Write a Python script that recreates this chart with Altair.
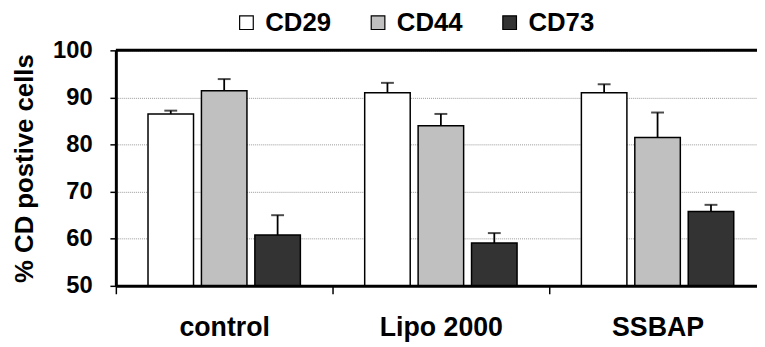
import altair as alt
import pandas as pd

groups = ["control", "Lipo 2000", "SSBAP"]
series = ["CD29", "CD44", "CD73"]
colors = ["#ffffff", "#c0c0c0", "#333333"]
values = {
    "CD29": [86.5, 91.0, 91.0],
    "CD44": [91.4, 84.0, 81.5],
    "CD73": [60.8, 59.1, 65.8],
}
errors = {
    "CD29": [0.7, 2.1, 1.8],
    "CD44": [2.5, 2.5, 5.3],
    "CD73": [4.2, 2.1, 1.4],
}

rows = []
for s in series:
    for i, g in enumerate(groups):
        v = values[s][i]
        e = errors[s][i]
        rows.append({"group": g, "series": s, "value": v, "top": v + e})
df = pd.DataFrame(rows)

FONT = "Liberation Sans"
W, H = 648, 238

x_enc = alt.X(
    "group:N",
    sort=groups,
    scale=alt.Scale(domain=groups, range=[0, 657], paddingInner=0, paddingOuter=0),
    axis=alt.Axis(
        title=None, labelAngle=0, labelFont=FONT, labelFontSize=27, labelFontWeight="bold",
        labelColor="black", tickBand="extent", tickSize=8, tickWidth=1.5, tickColor="black",
        domainColor="black", domainWidth=3, labelPadding=21, zindex=1,
    ),
)
xo_enc = alt.XOffset(
    "series:N", sort=series,
    scale=alt.Scale(domain=series, paddingInner=0.148, paddingOuter=0.602),
)
y_scale = alt.Scale(domain=[50, 100], zero=False, nice=False)

base = alt.Chart(df)

bars = base.mark_bar(stroke="black", strokeWidth=1.5).encode(
    x=x_enc,
    xOffset=xo_enc,
    y=alt.Y(
        "value:Q", scale=y_scale,
        axis=alt.Axis(
            title="% CD postive cells", titleFont=FONT, titleFontSize=26, titleFontWeight="bold",
            titleColor="black", titlePadding=15,
            values=[50, 60, 70, 80, 90, 100], labelFont=FONT, labelFontSize=24,
            labelFontWeight="bold", labelColor="black", labelPadding=18, tickSize=6,
            tickWidth=1.5, tickColor="black", domainColor="black", domainWidth=3,
            grid=True, gridColor="#999999", gridDash=[1, 1], gridWidth=1, zindex=0,
        ),
    ),
    y2=alt.datum(50),
    fill=alt.Fill(
        "series:N",
        sort=series,
        scale=alt.Scale(domain=series, range=colors),
        legend=alt.Legend(
            title=None, orient="none", legendX=119, legendY=-41, direction="horizontal",
            symbolType="square", symbolSize=190, symbolStrokeColor="black", symbolStrokeWidth=1.2,
            labelFont=FONT, labelFontSize=26, labelFontWeight="bold", labelColor="black",
            labelOffset=6, columnPadding=34,
        ),
    ),
)

err_line = base.mark_rule(color="black", strokeWidth=1.8).encode(
    x=x_enc, xOffset=xo_enc, y=alt.Y("value:Q", scale=y_scale), y2="top:Q",
)
err_cap = base.mark_tick(color="black", thickness=2, size=13).encode(
    x=x_enc, xOffset=xo_enc, y=alt.Y("top:Q", scale=y_scale),
)
top_line = alt.Chart(pd.DataFrame({"v": [100]})).mark_rule(color="black", strokeWidth=3).encode(
    y=alt.Y("v:Q", scale=y_scale),
)

chart = alt.layer(bars, err_line, err_cap, top_line).properties(
    width=W, height=H,
    autosize=alt.AutoSizeParams(type="none"),
    padding={"left": 109, "top": 41, "right": 0, "bottom": 60},
).configure_view(stroke=None).configure(background="white")

chart.save("out.html", embed_options={"renderer": "svg", "actions": False})
